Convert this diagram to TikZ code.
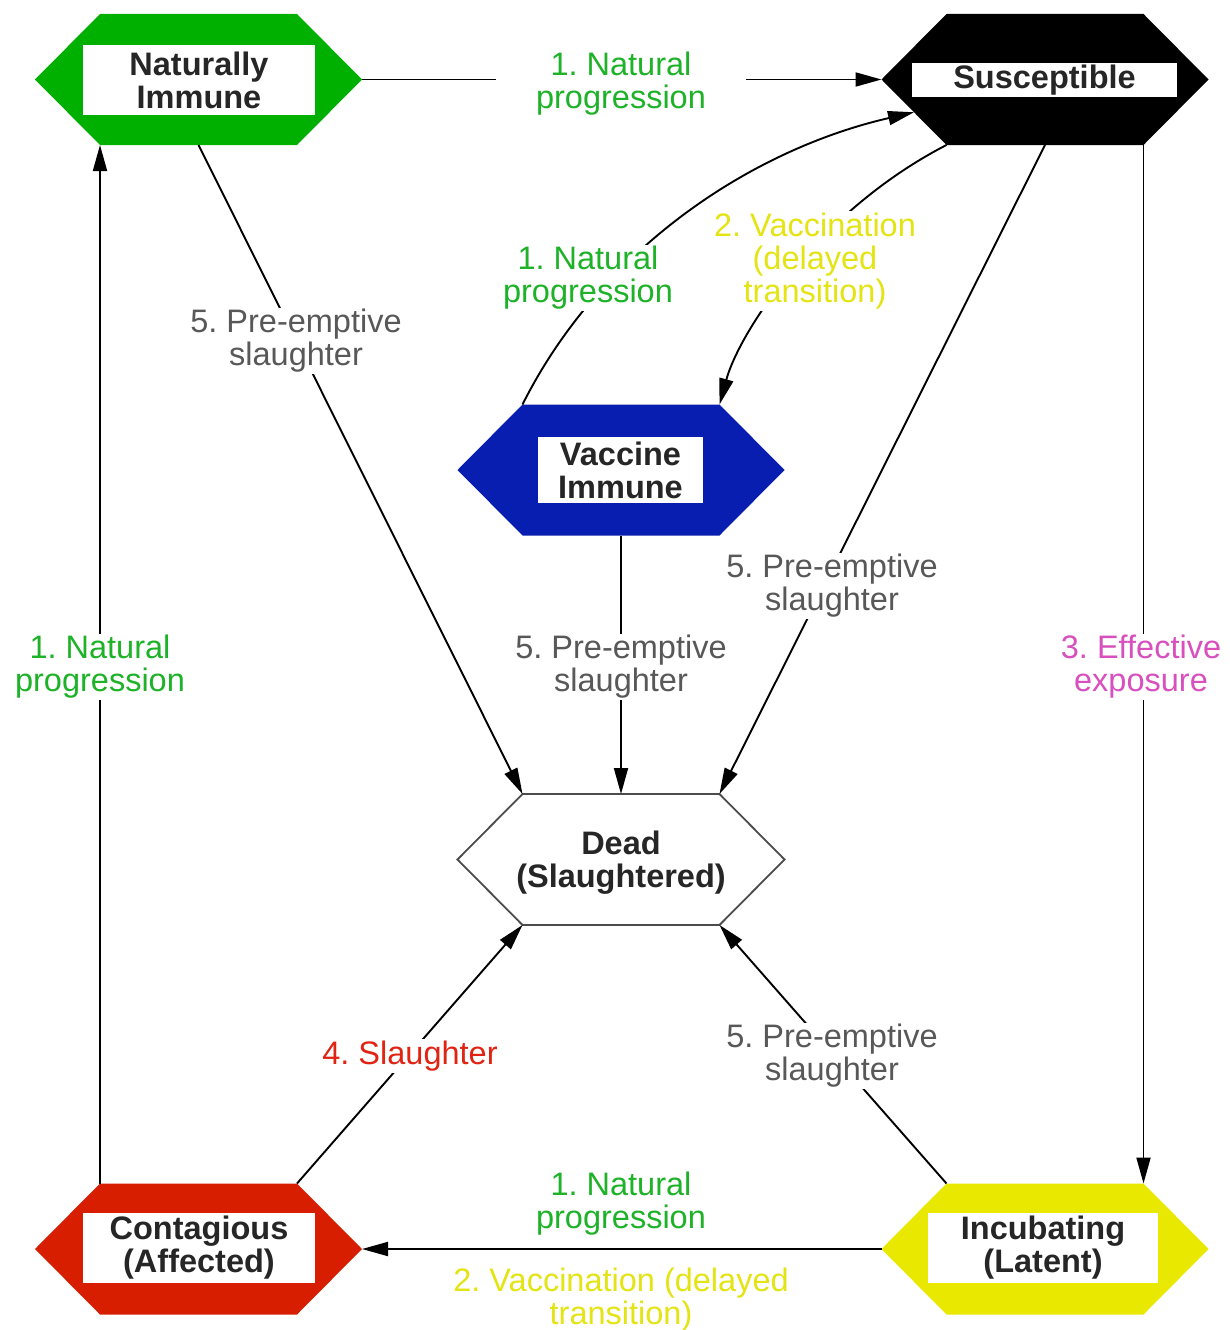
\documentclass[tikz,border=0pt]{standalone}
\usepackage{fontspec}
\setmainfont{Liberation Sans}
\usetikzlibrary{arrows.meta,calc}
\frenchspacing
\definecolor{hexgreen}{RGB}{0,176,0}
\definecolor{hexblue}{RGB}{8,30,176}
\definecolor{hexred}{RGB}{215,30,0}
\definecolor{hexyellow}{RGB}{232,232,0}
\definecolor{lgreen}{RGB}{30,178,40}
\definecolor{lyellow}{RGB}{228,228,20}
\definecolor{lgray}{RGB}{88,88,88}
\definecolor{lmagenta}{RGB}{215,80,190}
\definecolor{lred}{RGB}{225,35,20}
\tikzset{
  hexcore/.style={minimum width=197pt, minimum height=131pt, inner sep=0pt, outer sep=0pt},
  namebox/.style={fill=white, font=\bfseries\fontsize{32.5}{33}\selectfont, text=black!85, align=center, inner sep=0pt},
  lbl/.style={fill=white, font=\fontsize{32.5}{33}\selectfont, align=center, inner sep=1.5pt},
  conn/.style={line width=1.9pt, draw=black},
  arr/.style={-{Triangle[length=26pt,width=14pt]}},
}
\newcommand\hexpoints[1]{%
  \coordinate (#1-w) at ($(#1.west)+(-65,0)$);
  \coordinate (#1-e) at ($(#1.east)+(65,0)$);
}
\newcommand\hexfill[2]{%
  \path[#2] (#1.north west) -- (#1.north east) -- (#1-e) -- (#1.south east) -- (#1.south west) -- (#1-w) -- cycle;
}
\begin{document}
\begin{tikzpicture}[x=1pt,y=-1pt]
\useasboundingbox[fill=white] (0,0) rectangle (1230,1330);
% hexagon cores
\node[hexcore] (NI) at (198.5,79.5) {};
\node[hexcore] (S)  at (1045,79.5) {};
\node[hexcore] (VI) at (621,470) {};
\node[hexcore] (D)  at (621,859.5) {};
\node[hexcore] (C)  at (198.5,1249) {};
\node[hexcore] (I)  at (1045,1249) {};
\hexpoints{NI}\hexpoints{S}\hexpoints{VI}\hexpoints{D}\hexpoints{C}\hexpoints{I}
\hexfill{NI}{fill=hexgreen}
\hexfill{S}{fill=black}
\hexfill{VI}{fill=hexblue}
\hexfill{D}{fill=white,draw=black!70,line width=1.8pt,line join=miter}
\hexfill{C}{fill=hexred}
\hexfill{I}{fill=hexyellow}
% name boxes
\node[namebox,minimum width=232pt,minimum height=70pt] (NIt) at (199,80) {Naturally\\Immune};
\node[namebox,minimum width=265pt,minimum height=34pt] (St) at (1044.5,80) {Susceptible};
\node[namebox,minimum width=165pt,minimum height=66pt] (VIt) at (620.5,470) {Vaccine\\Immune};
\node[namebox,fill=none] (Dt) at (621,863) {Dead\\(Slaughtered)};
\node[namebox,minimum width=232pt,minimum height=70pt] (Ct) at (199,1248) {Contagious\\(Affected)};
\node[namebox,minimum width=230pt,minimum height=70pt] (It) at (1043,1248) {Incubating\\(Latent)};
% connectors
\coordinate (S-in) at ($(S-w)!0.5!(S.south west)$);
\draw[conn,arr] (NI-e) -- (S-w);
\draw[conn,arr] (S.south east) -- (I.north east);
\draw[conn,arr] (I-w) -- (C-e);
\draw[conn,arr] (C.north west) -- (NI.south west);
\draw[conn,arr] (C.north east) -- (D.south west);
\draw[conn,arr] (I.north west) -- (D.south east);
\draw[conn,arr] (NI.south) -- (D.north west);
\draw[conn,arr] (S.south) -- (D.north east);
\draw[conn,arr] (VI.south) -- (D.north);
\draw[conn,arr] (VI.north west) .. controls (600,250) and (750,150) .. (S-in);
\draw[conn,arr] (S.south west) .. controls (820,210) and (740,330) .. (VI.north east);
% labels
\node[lbl,text=lgreen,inner xsep=40pt] (l1) at (621,84) {1. Natural\\progression};
\node[lbl,text=lgreen] (l2) at (588,278) {1. Natural\\progression};
\node[lbl,text=lyellow] (l3) at (815,261) {2. Vaccination\\(delayed\\transition)};
\node[lbl,text=lgray] (l4) at (296,341) {5. Pre-emptive\\slaughter};
\node[lbl,text=lgray] (l5) at (832,586) {5. Pre-emptive\\slaughter};
\node[lbl,text=lgray] (l6) at (621,667) {5. Pre-emptive\\slaughter};
\node[lbl,text=lgreen] (l7) at (100,667) {1. Natural\\progression};
\node[lbl,text=lmagenta] (l8) at (1141,667) {3. Effective\\exposure};
\node[lbl,text=lred] (l9) at (410,1056) {4. Slaughter};
\node[lbl,text=lgray] (l10) at (832,1056) {5. Pre-emptive\\slaughter};
\node[lbl,text=lgreen] (l11) at (621,1204) {1. Natural\\progression};
\node[lbl,text=lyellow] (l12) at (621,1300) {2. Vaccination (delayed\\transition)};
\end{tikzpicture}
\end{document}
